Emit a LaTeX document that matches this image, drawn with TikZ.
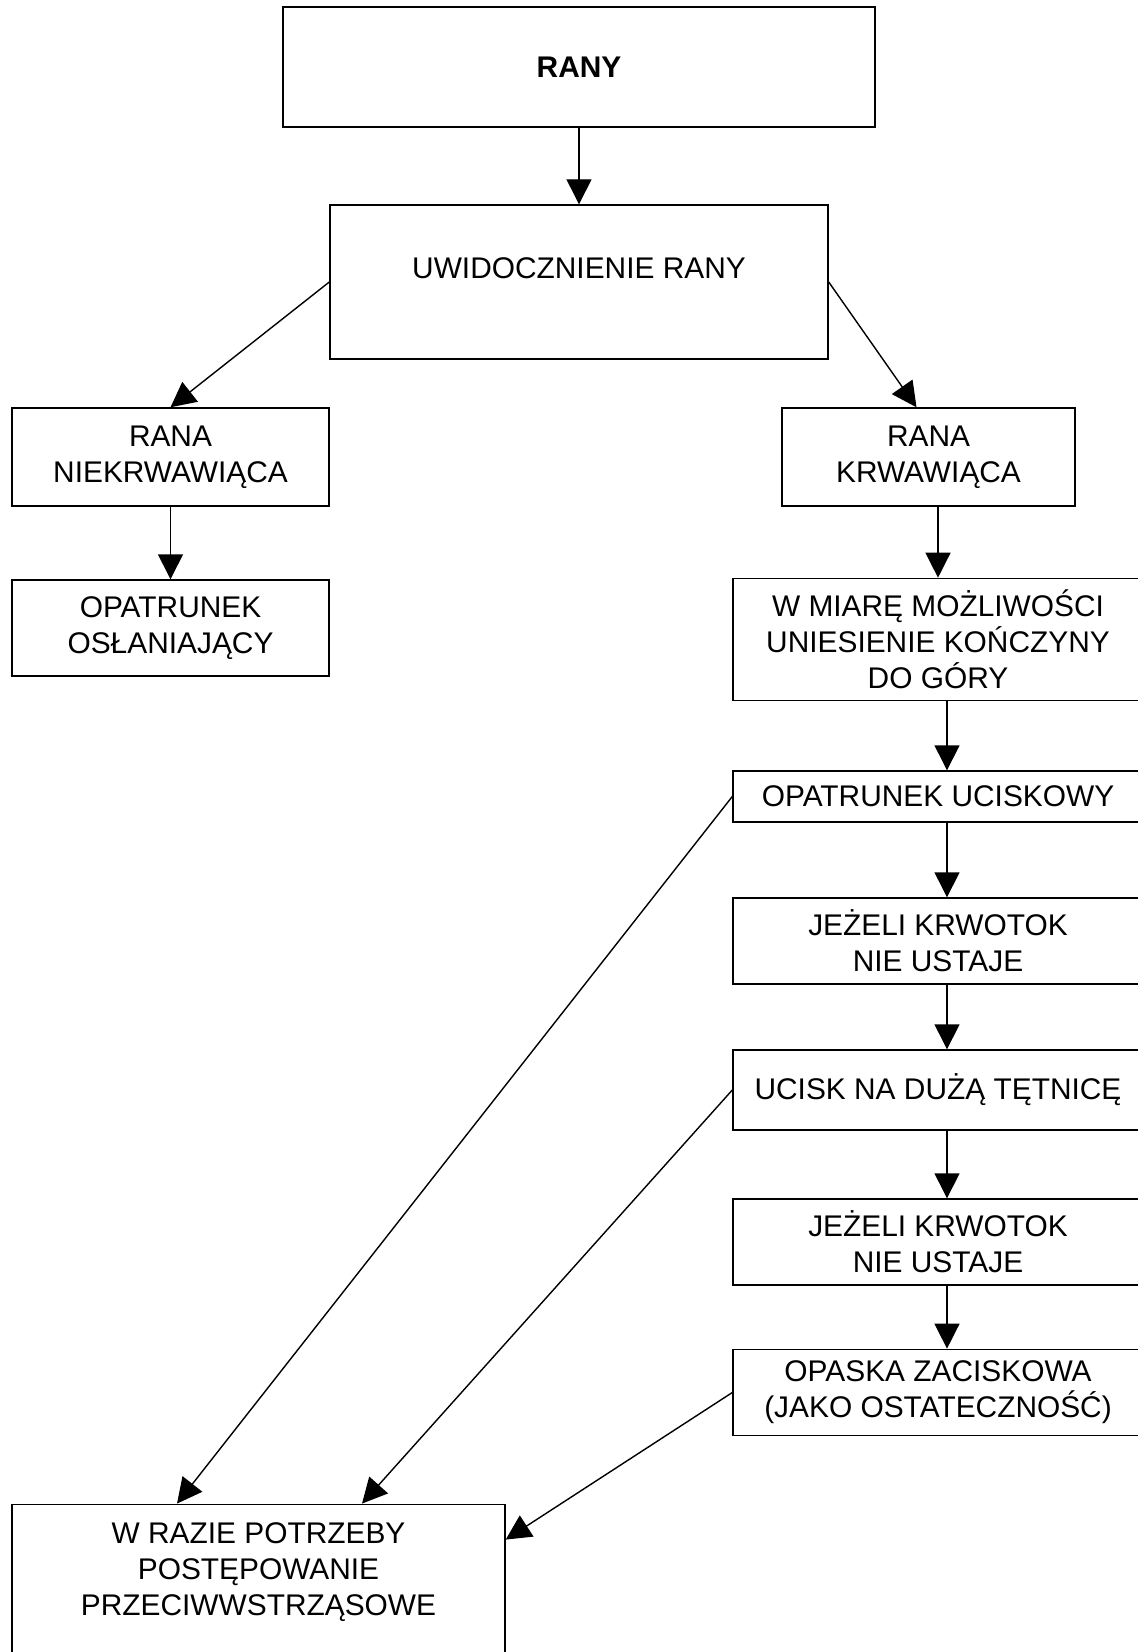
\documentclass[tikz,border=0pt]{standalone}
\usepackage{fontspec}
\setmainfont{Liberation Sans}
\usetikzlibrary{shapes,arrows,arrows.meta,positioning}
\tikzstyle{block} = [rectangle, draw, align=center, line width=0.4pt,
    font=\fontsize{8.5}{10.2}\selectfont]
\tikzstyle{step box} = [block, minimum width=41mm]
\tikzstyle{line} = [draw, line width=0.4pt, -{Triangle[length=2.5mm,width=2.5mm]}]

\begin{document}
\begin{tikzpicture}[node distance = 15mm, auto]

\path [use as bounding box, clip] (0,0) rectangle (113.8mm,-165.2mm);

\node [block, minimum width=59.2mm, minimum height=12mm] (rany) at (57.9mm,-6.7mm) {\textbf{RANY}};
\node [block, below of=rany, node distance=21.5mm, minimum width=49.8mm, minimum height=15.4mm,
    text depth=2.8mm] (uwid) {UWIDOCZNIENIE RANY};
\node [block, below of=uwid, node distance=17.5mm, xshift=-40.85mm, minimum width=31.7mm,
    minimum height=9.8mm] (niekrw) {RANA\\NIEKRWAWIĄCA};
\node [block, right of=niekrw, node distance=75.8mm, minimum width=29.3mm,
    minimum height=9.8mm] (krw) {RANA\\KRWAWIĄCA};
\node [block, below of=niekrw, node distance=17.1mm, minimum width=31.7mm,
    minimum height=9.6mm] (oslan) {OPATRUNEK\\OSŁANIAJĄCY};

% prawa kolumna
\node [step box, below of=krw, node distance=18.25mm, xshift=0.95mm,
    minimum height=11.9mm] (miara) {W MIARĘ MOŻLIWOŚCI\\UNIESIENIE KOŃCZYNY\\DO GÓRY};
\node [step box, below of=miara, node distance=15.7mm, minimum height=5.1mm] (uciskowy) {OPATRUNEK UCISKOWY};
\node [step box, below of=uciskowy, node distance=14.45mm, minimum height=8.6mm] (jezeli1) {JEŻELI KRWOTOK\\NIE USTAJE};
\node [step box, below of=jezeli1, node distance=14.9mm, minimum height=8mm] (ucisk) {UCISK NA DUŻĄ TĘTNICĘ};
\node [step box, below of=ucisk, node distance=15.2mm, minimum height=8.6mm] (jezeli2) {JEŻELI KRWOTOK\\NIE USTAJE};
\node [step box, below of=jezeli2, node distance=15.05mm, minimum height=8.5mm] (opaska) {OPASKA ZACISKOWA\\(JAKO OSTATECZNOŚĆ)};

\node [block, below of=oslan, node distance=97.5mm, xshift=8.8mm, minimum width=49.3mm,
    text height=9.95mm, text depth=7.45mm] (potrzeby) {W RAZIE POTRZEBY\\POSTĘPOWANIE\\PRZECIWWSTRZĄSOWE};

\path [line] (rany) -- (uwid);
\path [line] (uwid.west) -- (niekrw.north);
\path [line] (uwid.east) -- ([xshift=-1.2mm]krw.north);
\path [line] (niekrw) -- (oslan);
\path [line] (krw.south -| miara.north) -- (miara.north);
\path [line] ([xshift=0.9mm]miara.south) -- ([xshift=0.9mm]uciskowy.north);
\path [line] ([xshift=0.9mm]uciskowy.south) -- ([xshift=0.9mm]jezeli1.north);
\path [line] ([xshift=0.9mm]jezeli1.south) -- ([xshift=0.9mm]ucisk.north);
\path [line] ([xshift=0.9mm]ucisk.south) -- ([xshift=0.9mm]jezeli2.north);
\path [line] ([xshift=0.9mm]jezeli2.south) -- ([xshift=0.9mm]opaska.north);
\path [line] (uciskowy.west) -- ([xshift=-8.15mm]potrzeby.north);
\path [line] (ucisk.west) -- ([xshift=10.35mm]potrzeby.north);
\path [line] (opaska.west) -- ([yshift=-3.6mm]potrzeby.north east);
\end{tikzpicture}
\end{document}
